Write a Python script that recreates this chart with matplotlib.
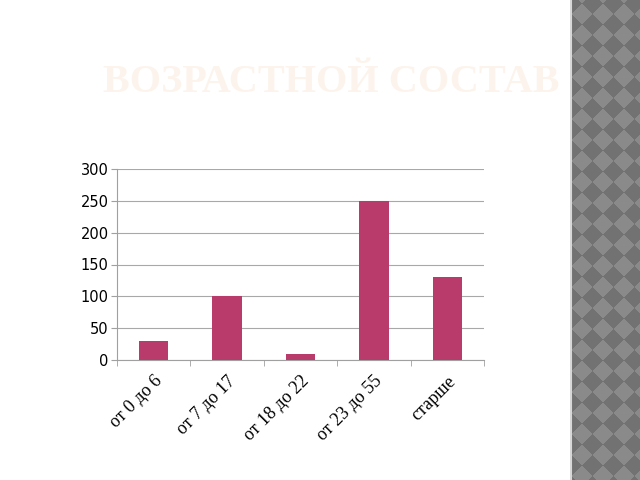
import numpy as np
import matplotlib
matplotlib.use('Agg')
import matplotlib.pyplot as plt

# data
categories = ['от 0 до 6', 'от 7 до 17', 'от 18 до 22', 'от 23 до 55', 'старше']
values = [30, 100, 10, 250, 130]
yticks = [0, 50, 100, 150, 200, 250, 300]

fig = plt.figure(figsize=(6.4, 4.8), dpi=100)
fig.patch.set_facecolor('white')

# decorative diamond strip on the right
strip = fig.add_axes([570 / 640, 0, 70 / 640, 1])
s = 21
yy, xx = np.mgrid[0:480, 0:70]
pattern = (((xx + yy + 6) // s) + ((xx - yy + 600) // s)) % 2
strip.imshow(pattern, cmap=matplotlib.colors.ListedColormap(['#727272', '#8a8a8a']),
             aspect='auto', interpolation='nearest')
strip.axvline(0, color='#d8d8d8', lw=1.5)
strip.axis('off')

# title
fig.text(0.518, 0.828, 'ВОЗРАСТНОЙ СОСТАВ', family='Liberation Serif', weight='bold',
         fontsize=29, color='#FCF4EC', ha='center', va='center')

ax = fig.add_axes([117 / 640, 1 - 360 / 480, 367 / 640, 191 / 480])
x = np.arange(len(categories))
ax.bar(x, values, width=0.4, color='#B83B6B', zorder=3)

ax.set_xlim(-0.5, len(categories) - 0.5)
ax.set_ylim(0, 300)
ax.set_yticks(yticks)
ax.set_yticklabels([str(v) for v in yticks], fontsize=10.5, family='DejaVu Sans')
ax.set_xticks(x)
ax.set_xticklabels(categories, rotation=45, ha='right', rotation_mode='anchor',
                   family='Liberation Serif', fontsize=13)
ax.set_xticks(np.arange(len(categories) + 1) - 0.5, minor=True)
ax.tick_params(axis='x', which='major', length=0, pad=9)
ax.tick_params(axis='x', which='minor', length=4, color='#a0a0a0')
ax.tick_params(axis='y', length=4, color='#a0a0a0', pad=2)

ax.grid(axis='y', color='#a8a8a8', lw=0.8, zorder=0)
for side in ['top', 'right']:
    ax.spines[side].set_visible(False)
for side in ['left', 'bottom']:
    ax.spines[side].set_color('#a0a0a0')
    ax.spines[side].set_linewidth(0.8)

fig.savefig('out.png', dpi=100)
